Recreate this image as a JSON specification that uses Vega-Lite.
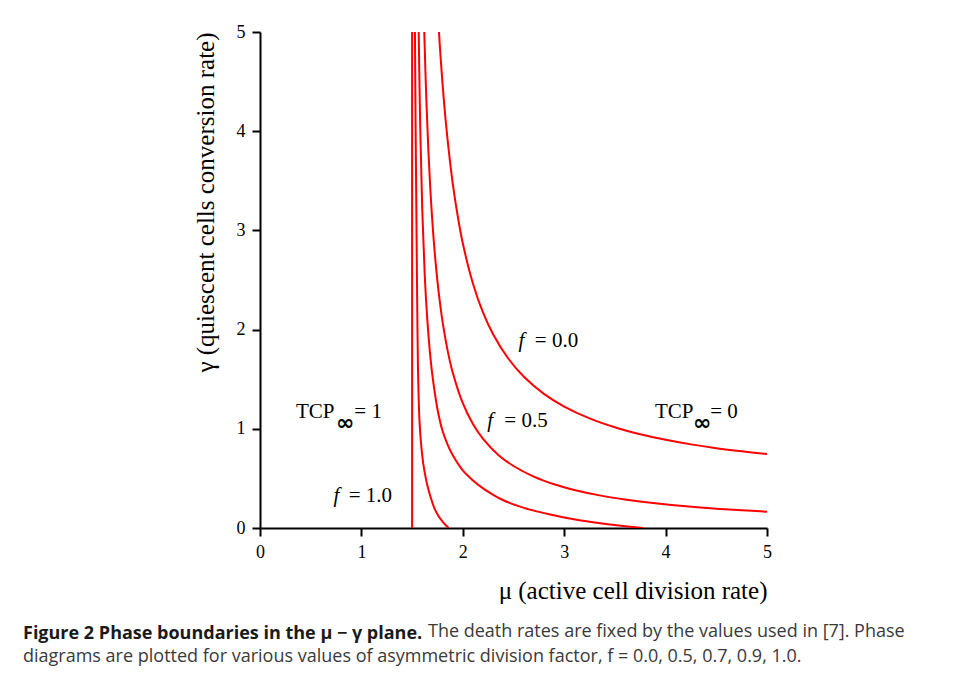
{
  "$schema": "https://vega.github.io/schema/vega-lite/v6.json",
  "width": 507,
  "height": 496,
  "autosize": {"type": "none"},
  "padding": {"left": 260, "top": 32, "right": 186, "bottom": 153},
  "background": "white",
  "config": {"view": {"stroke": null}, "font": "Liberation Serif"},
  "title": {
    "text": "Figure 2 Phase boundaries in the μ − γ plane.",
    "subtitle": [
      "\u200B\u2003\u2003\u2003\u2003\u2003\u2003\u2003\u2003\u2003\u2003\u2003\u2003\u2003\u2003\u2003\u2003\u2003\u2003\u2003\u2003\u2003\u2003\u2002The death rates are fixed by the values used in [7]. Phase",
      "diagrams are plotted for various values of asymmetric division factor, f = 0.0, 0.5, 0.7, 0.9, 1.0."
    ],
    "orient": "bottom",
    "anchor": "start",
    "frame": "group",
    "dx": -237,
    "offset": 22,
    "font": "Open Sans",
    "fontSize": 18,
    "fontWeight": "bold",
    "color": "#1a1a1a",
    "subtitleFont": "Open Sans",
    "subtitleFontSize": 18,
    "subtitleFontWeight": "normal",
    "subtitleColor": "#3a3a3a",
    "subtitleLineHeight": 25,
    "subtitlePadding": -20
  },
  "datasets": {
    "curves": [
      {"f": "0.0", "mu": 1.765, "g": 5.0},
      {"f": "0.0", "mu": 1.78, "g": 4.76},
      {"f": "0.0", "mu": 1.8, "g": 4.48},
      {"f": "0.0", "mu": 1.83, "g": 4.12},
      {"f": "0.0", "mu": 1.86, "g": 3.82},
      {"f": "0.0", "mu": 1.9, "g": 3.48},
      {"f": "0.0", "mu": 1.95, "g": 3.144},
      {"f": "0.0", "mu": 2.0, "g": 2.87},
      {"f": "0.0", "mu": 2.1, "g": 2.465},
      {"f": "0.0", "mu": 2.2, "g": 2.17},
      {"f": "0.0", "mu": 2.3, "g": 1.951},
      {"f": "0.0", "mu": 2.45, "g": 1.706},
      {"f": "0.0", "mu": 2.6, "g": 1.527},
      {"f": "0.0", "mu": 2.8, "g": 1.352},
      {"f": "0.0", "mu": 3.0, "g": 1.224},
      {"f": "0.0", "mu": 3.25, "g": 1.105},
      {"f": "0.0", "mu": 3.5, "g": 1.015},
      {"f": "0.0", "mu": 3.75, "g": 0.945},
      {"f": "0.0", "mu": 4.0, "g": 0.889},
      {"f": "0.0", "mu": 4.25, "g": 0.843},
      {"f": "0.0", "mu": 4.5, "g": 0.805},
      {"f": "0.0", "mu": 4.75, "g": 0.773},
      {"f": "0.0", "mu": 5.0, "g": 0.745},
      {"f": "0.5", "mu": 1.62, "g": 5.0},
      {"f": "0.5", "mu": 1.64, "g": 4.329},
      {"f": "0.5", "mu": 1.66, "g": 3.817},
      {"f": "0.5", "mu": 1.68, "g": 3.413},
      {"f": "0.5", "mu": 1.7, "g": 3.086},
      {"f": "0.5", "mu": 1.73, "g": 2.697},
      {"f": "0.5", "mu": 1.76, "g": 2.395},
      {"f": "0.5", "mu": 1.8, "g": 2.083},
      {"f": "0.5", "mu": 1.85, "g": 1.791},
      {"f": "0.5", "mu": 1.9, "g": 1.57},
      {"f": "0.5", "mu": 2.0, "g": 1.258},
      {"f": "0.5", "mu": 2.1, "g": 1.048},
      {"f": "0.5", "mu": 2.2, "g": 0.898},
      {"f": "0.5", "mu": 2.35, "g": 0.737},
      {"f": "0.5", "mu": 2.5, "g": 0.625},
      {"f": "0.5", "mu": 2.7, "g": 0.518},
      {"f": "0.5", "mu": 2.9, "g": 0.441},
      {"f": "0.5", "mu": 3.1, "g": 0.384},
      {"f": "0.5", "mu": 3.35, "g": 0.329},
      {"f": "0.5", "mu": 3.6, "g": 0.288},
      {"f": "0.5", "mu": 3.9, "g": 0.249},
      {"f": "0.5", "mu": 4.2, "g": 0.219},
      {"f": "0.5", "mu": 4.5, "g": 0.195},
      {"f": "0.5", "mu": 4.75, "g": 0.179},
      {"f": "0.5", "mu": 5.0, "g": 0.164},
      {"f": "0.7", "mu": 1.565, "g": 5.0},
      {"f": "0.7", "mu": 1.58, "g": 4.05},
      {"f": "0.7", "mu": 1.6, "g": 3.21},
      {"f": "0.7", "mu": 1.625, "g": 2.54},
      {"f": "0.7", "mu": 1.65, "g": 2.1},
      {"f": "0.7", "mu": 1.675, "g": 1.78},
      {"f": "0.7", "mu": 1.7, "g": 1.54},
      {"f": "0.7", "mu": 1.75, "g": 1.2},
      {"f": "0.7", "mu": 1.8, "g": 0.98},
      {"f": "0.7", "mu": 1.85, "g": 0.84},
      {"f": "0.7", "mu": 1.9, "g": 0.735},
      {"f": "0.7", "mu": 2.0, "g": 0.58},
      {"f": "0.7", "mu": 2.1, "g": 0.48},
      {"f": "0.7", "mu": 2.2, "g": 0.4},
      {"f": "0.7", "mu": 2.3, "g": 0.335},
      {"f": "0.7", "mu": 2.4, "g": 0.28},
      {"f": "0.7", "mu": 2.55, "g": 0.22},
      {"f": "0.7", "mu": 2.7, "g": 0.175},
      {"f": "0.7", "mu": 2.85, "g": 0.138},
      {"f": "0.7", "mu": 3.0, "g": 0.105},
      {"f": "0.7", "mu": 3.15, "g": 0.078},
      {"f": "0.7", "mu": 3.3, "g": 0.055},
      {"f": "0.7", "mu": 3.45, "g": 0.035},
      {"f": "0.7", "mu": 3.6, "g": 0.018},
      {"f": "0.7", "mu": 3.78, "g": 0.0},
      {"f": "0.9", "mu": 1.528, "g": 5.0},
      {"f": "0.9", "mu": 1.535, "g": 4.0},
      {"f": "0.9", "mu": 1.542, "g": 3.2},
      {"f": "0.9", "mu": 1.548, "g": 2.5},
      {"f": "0.9", "mu": 1.553, "g": 2.0},
      {"f": "0.9", "mu": 1.558, "g": 1.6},
      {"f": "0.9", "mu": 1.565, "g": 1.3},
      {"f": "0.9", "mu": 1.573, "g": 1.08},
      {"f": "0.9", "mu": 1.583, "g": 0.92},
      {"f": "0.9", "mu": 1.595, "g": 0.78},
      {"f": "0.9", "mu": 1.61, "g": 0.65},
      {"f": "0.9", "mu": 1.628, "g": 0.54},
      {"f": "0.9", "mu": 1.65, "g": 0.43},
      {"f": "0.9", "mu": 1.68, "g": 0.32},
      {"f": "0.9", "mu": 1.72, "g": 0.2},
      {"f": "0.9", "mu": 1.76, "g": 0.12},
      {"f": "0.9", "mu": 1.8, "g": 0.065},
      {"f": "0.9", "mu": 1.83, "g": 0.03},
      {"f": "0.9", "mu": 1.86, "g": 0.0},
      {"f": "1.0", "mu": 1.5, "g": 5.0},
      {"f": "1.0", "mu": 1.5, "g": 0.0}
    ],
    "italic": [
      {"t": "f", "mu": 2.55, "g": 1.828},
      {"t": "f", "mu": 2.24, "g": 1.021},
      {"t": "f", "mu": 0.725, "g": 0.262}
    ],
    "roman": [
      {"t": "= 0.0", "mu": 2.71, "g": 1.828},
      {"t": "= 0.5", "mu": 2.41, "g": 1.021},
      {"t": "= 1.0", "mu": 0.875, "g": 0.262},
      {"t": "TCP", "mu": 0.355, "g": 1.11},
      {"t": "= 1", "mu": 0.93, "g": 1.11},
      {"t": "TCP", "mu": 3.895, "g": 1.11},
      {"t": "= 0", "mu": 4.44, "g": 1.11}
    ],
    "infinity": [
      {"t": "∞", "mu": 0.75, "g": 0.99},
      {"t": "∞", "mu": 4.27, "g": 0.99}
    ]
  },
  "encoding": {
    "x": {
      "field": "mu",
      "type": "quantitative",
      "scale": {"domain": [0, 5]},
      "axis": {
        "values": [0, 1, 2, 3, 4, 5],
        "title": "μ (active cell division rate)",
        "titleAnchor": "end",
        "titleFont": "Liberation Serif",
        "titleFontSize": 25,
        "titleFontWeight": "normal",
        "titleColor": "black",
        "titlePadding": 17,
        "labelFont": "Liberation Serif",
        "labelFontSize": 18,
        "labelColor": "black",
        "labelPadding": 7,
        "labelFlush": false,
        "labelAngle": 0,
        "tickSize": 8,
        "tickWidth": 2,
        "tickColor": "black",
        "domainColor": "black",
        "domainWidth": 2,
        "grid": false
      }
    },
    "y": {
      "field": "g",
      "type": "quantitative",
      "scale": {"domain": [0, 5]},
      "axis": {
        "values": [0, 1, 2, 3, 4, 5],
        "title": "γ (quiescent cells conversion rate)",
        "titleAnchor": "end",
        "titleFont": "Liberation Serif",
        "titleFontSize": 25,
        "titleFontWeight": "normal",
        "titleColor": "black",
        "titlePadding": 18,
        "labelFont": "Liberation Serif",
        "labelFontSize": 18,
        "labelColor": "black",
        "labelPadding": 7,
        "labelFlush": false,
        "tickSize": 8,
        "tickWidth": 2,
        "tickColor": "black",
        "domainColor": "black",
        "domainWidth": 2,
        "grid": false
      }
    }
  },
  "layer": [
    {
      "data": {"name": "curves"},
      "mark": {"type": "line", "color": "#ff0000", "strokeWidth": 2, "interpolate": "catmull-rom", "clip": true},
      "encoding": {
        "detail": {"field": "f", "type": "nominal"},
        "order": {"field": "g", "sort": "descending"}
      }
    },
    {
      "data": {"name": "italic"},
      "mark": {"type": "text", "align": "left", "baseline": "alphabetic", "font": "Liberation Serif", "fontStyle": "italic", "fontSize": 21, "color": "black"},
      "encoding": {"text": {"field": "t"}}
    },
    {
      "data": {"name": "roman"},
      "mark": {"type": "text", "align": "left", "baseline": "alphabetic", "font": "Liberation Serif", "fontSize": 21, "color": "black"},
      "encoding": {"text": {"field": "t"}}
    },
    {
      "data": {"name": "infinity"},
      "mark": {"type": "text", "align": "left", "baseline": "alphabetic", "font": "DejaVu Sans", "fontWeight": "bold", "fontSize": 22, "color": "black"},
      "encoding": {"text": {"field": "t"}}
    }
  ]
}
